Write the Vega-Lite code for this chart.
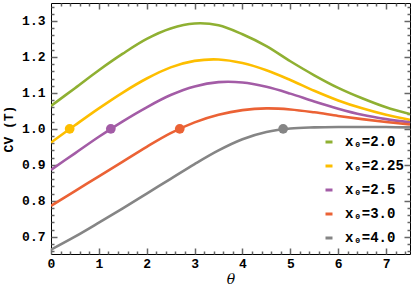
{
  "$schema": "https://vega.github.io/schema/vega-lite/v6.json",
  "width": 359,
  "height": 251,
  "autosize": {"type": "none"},
  "padding": {"left": 51, "top": 3, "right": 4, "bottom": 40},
  "config": {
    "view": {"stroke": "black", "strokeWidth": 1},
    "font": "Liberation Mono"
  },
  "datasets": {
    "curves": [
      {"series": "x₀=2.0", "theta": 0, "cv": 1.064},
      {"series": "x₀=2.0", "theta": 0.5, "cv": 1.113},
      {"series": "x₀=2.0", "theta": 1.0, "cv": 1.163},
      {"series": "x₀=2.0", "theta": 1.5, "cv": 1.209},
      {"series": "x₀=2.0", "theta": 2.0, "cv": 1.250},
      {"series": "x₀=2.0", "theta": 2.5, "cv": 1.279},
      {"series": "x₀=2.0", "theta": 3.0, "cv": 1.293},
      {"series": "x₀=2.0", "theta": 3.5, "cv": 1.288},
      {"series": "x₀=2.0", "theta": 4.0, "cv": 1.263},
      {"series": "x₀=2.0", "theta": 4.5, "cv": 1.230},
      {"series": "x₀=2.0", "theta": 5.0, "cv": 1.188},
      {"series": "x₀=2.0", "theta": 5.5, "cv": 1.149},
      {"series": "x₀=2.0", "theta": 6.0, "cv": 1.114},
      {"series": "x₀=2.0", "theta": 6.5, "cv": 1.085},
      {"series": "x₀=2.0", "theta": 7.0, "cv": 1.060},
      {"series": "x₀=2.0", "theta": 7.5, "cv": 1.041},
      {"series": "x₀=2.25", "theta": 0, "cv": 0.962},
      {"series": "x₀=2.25", "theta": 0.5, "cv": 1.010},
      {"series": "x₀=2.25", "theta": 1.0, "cv": 1.057},
      {"series": "x₀=2.25", "theta": 1.5, "cv": 1.101},
      {"series": "x₀=2.25", "theta": 2.0, "cv": 1.140},
      {"series": "x₀=2.25", "theta": 2.5, "cv": 1.171},
      {"series": "x₀=2.25", "theta": 3.0, "cv": 1.189},
      {"series": "x₀=2.25", "theta": 3.5, "cv": 1.193},
      {"series": "x₀=2.25", "theta": 4.0, "cv": 1.183},
      {"series": "x₀=2.25", "theta": 4.5, "cv": 1.163},
      {"series": "x₀=2.25", "theta": 5.0, "cv": 1.136},
      {"series": "x₀=2.25", "theta": 5.5, "cv": 1.106},
      {"series": "x₀=2.25", "theta": 6.0, "cv": 1.079},
      {"series": "x₀=2.25", "theta": 6.5, "cv": 1.057},
      {"series": "x₀=2.25", "theta": 7.0, "cv": 1.039},
      {"series": "x₀=2.25", "theta": 7.5, "cv": 1.025},
      {"series": "x₀=2.5", "theta": 0, "cv": 0.886},
      {"series": "x₀=2.5", "theta": 0.5, "cv": 0.932},
      {"series": "x₀=2.5", "theta": 1.0, "cv": 0.978},
      {"series": "x₀=2.5", "theta": 1.5, "cv": 1.021},
      {"series": "x₀=2.5", "theta": 2.0, "cv": 1.060},
      {"series": "x₀=2.5", "theta": 2.5, "cv": 1.094},
      {"series": "x₀=2.5", "theta": 3.0, "cv": 1.118},
      {"series": "x₀=2.5", "theta": 3.5, "cv": 1.130},
      {"series": "x₀=2.5", "theta": 4.0, "cv": 1.129},
      {"series": "x₀=2.5", "theta": 4.5, "cv": 1.117},
      {"series": "x₀=2.5", "theta": 5.0, "cv": 1.098},
      {"series": "x₀=2.5", "theta": 5.5, "cv": 1.076},
      {"series": "x₀=2.5", "theta": 6.0, "cv": 1.056},
      {"series": "x₀=2.5", "theta": 6.5, "cv": 1.039},
      {"series": "x₀=2.5", "theta": 7.0, "cv": 1.027},
      {"series": "x₀=2.5", "theta": 7.5, "cv": 1.018},
      {"series": "x₀=3.0", "theta": 0, "cv": 0.786},
      {"series": "x₀=3.0", "theta": 0.5, "cv": 0.827},
      {"series": "x₀=3.0", "theta": 1.0, "cv": 0.868},
      {"series": "x₀=3.0", "theta": 1.5, "cv": 0.909},
      {"series": "x₀=3.0", "theta": 2.0, "cv": 0.950},
      {"series": "x₀=3.0", "theta": 2.5, "cv": 0.988},
      {"series": "x₀=3.0", "theta": 3.0, "cv": 1.018},
      {"series": "x₀=3.0", "theta": 3.5, "cv": 1.039},
      {"series": "x₀=3.0", "theta": 4.0, "cv": 1.052},
      {"series": "x₀=3.0", "theta": 4.5, "cv": 1.057},
      {"series": "x₀=3.0", "theta": 5.0, "cv": 1.054},
      {"series": "x₀=3.0", "theta": 5.5, "cv": 1.046},
      {"series": "x₀=3.0", "theta": 6.0, "cv": 1.036},
      {"series": "x₀=3.0", "theta": 6.5, "cv": 1.027},
      {"series": "x₀=3.0", "theta": 7.0, "cv": 1.019},
      {"series": "x₀=3.0", "theta": 7.5, "cv": 1.012},
      {"series": "x₀=4.0", "theta": 0, "cv": 0.664},
      {"series": "x₀=4.0", "theta": 0.5, "cv": 0.700},
      {"series": "x₀=4.0", "theta": 1.0, "cv": 0.739},
      {"series": "x₀=4.0", "theta": 1.5, "cv": 0.779},
      {"series": "x₀=4.0", "theta": 2.0, "cv": 0.820},
      {"series": "x₀=4.0", "theta": 2.5, "cv": 0.861},
      {"series": "x₀=4.0", "theta": 3.0, "cv": 0.902},
      {"series": "x₀=4.0", "theta": 3.5, "cv": 0.940},
      {"series": "x₀=4.0", "theta": 4.0, "cv": 0.971},
      {"series": "x₀=4.0", "theta": 4.5, "cv": 0.991},
      {"series": "x₀=4.0", "theta": 5.0, "cv": 1.001},
      {"series": "x₀=4.0", "theta": 5.5, "cv": 1.004},
      {"series": "x₀=4.0", "theta": 6.0, "cv": 1.005},
      {"series": "x₀=4.0", "theta": 6.5, "cv": 1.005},
      {"series": "x₀=4.0", "theta": 7.0, "cv": 1.005},
      {"series": "x₀=4.0", "theta": 7.5, "cv": 1.004}
    ],
    "crossings": [
      {"series": "x₀=2.25", "theta": 0.39, "cv": 1},
      {"series": "x₀=2.5", "theta": 1.25, "cv": 1},
      {"series": "x₀=3.0", "theta": 2.69, "cv": 1},
      {"series": "x₀=4.0", "theta": 4.85, "cv": 1}
    ]
  },
  "resolve": {"axis": {"x": "independent", "y": "independent"}},
  "layer": [
    {
      "mark": {"type": "rule", "strokeDash": [2, 2], "color": "#7a7a7a", "strokeWidth": 1},
      "encoding": {
        "x": {"datum": 0, "type": "quantitative", "scale": {"domain": [0, 7.5], "nice": false, "zero": false},
              "axis": {"orient": "top", "values": [1, 2, 3, 4, 5, 6, 7], "tickSize": -6, "tickColor": "#666", "tickWidth": 1.5, "labels": false, "title": null, "domain": false, "grid": false}},
        "x2": {"datum": 7.5},
        "y": {"datum": 1, "type": "quantitative", "scale": {"domain": [0.652, 1.35], "nice": false, "zero": false},
              "axis": {"orient": "right", "values": [0.7, 0.8, 0.9, 1.0, 1.1, 1.2, 1.3], "tickSize": -6, "tickColor": "#666", "tickWidth": 1.5, "labels": false, "title": null, "domain": false, "grid": false}}
      }
    },
    {
      "data": {"name": "curves"},
      "mark": {"type": "line", "strokeWidth": 2.6, "interpolate": "catmull-rom", "clip": true},
      "encoding": {
        "x": {"field": "theta", "type": "quantitative",
              "axis": {"orient": "bottom", "values": [0, 1, 2, 3, 4, 5, 6, 7], "tickSize": -6, "tickColor": "#666", "tickWidth": 1.5, "labelPadding": 9,
                       "domain": false, "grid": false, "labelFlush": false,
                       "labelFont": "Liberation Mono", "labelFontWeight": "bold", "labelFontSize": 13, "labelColor": "black",
                       "title": "θ", "titleFont": "DejaVu Serif", "titleFontStyle": "italic", "titleFontWeight": "normal", "titleFontSize": 14, "titleColor": "black", "titlePadding": 2}},
        "y": {"field": "cv", "type": "quantitative",
              "axis": {"orient": "left", "values": [0.7, 0.8, 0.9, 1.0, 1.1, 1.2, 1.3], "format": ".1f", "tickSize": -6, "tickColor": "#666", "tickWidth": 1.5, "labelPadding": 12,
                       "domain": false, "grid": false, "labelFlush": false,
                       "labelFont": "Liberation Mono", "labelFontWeight": "bold", "labelFontSize": 13, "labelColor": "black",
                       "title": "CV (T)", "titleFont": "Liberation Mono", "titleFontWeight": "bold", "titleFontSize": 13, "titleColor": "black", "titlePadding": 6}},
        "color": {"field": "series", "type": "nominal",
                  "scale": {"domain": ["x₀=2.0", "x₀=2.25", "x₀=2.5", "x₀=3.0", "x₀=4.0"],
                            "range": ["#8FB032", "#FDBE00", "#A35CA6", "#EB6235", "#858585"]},
                  "legend": {"orient": "none", "legendX": 271, "legendY": 132, "title": null,
                             "symbolType": "stroke", "symbolSize": 49, "symbolStrokeWidth": 3,
                             "labelFont": "Liberation Mono", "labelFontWeight": "bold", "labelFontSize": 14, "labelColor": "black",
                             "rowPadding": 10, "labelOffset": 9}}
      }
    },
    {
      "data": {"name": "crossings"},
      "mark": {"type": "point", "filled": true, "size": 95, "opacity": 1},
      "encoding": {
        "x": {"field": "theta", "type": "quantitative",
              "axis": {"orient": "bottom", "values": [0.2,0.4,0.6,0.8,1.2,1.4,1.6,1.8,2.2,2.4,2.6,2.8,3.2,3.4,3.6,3.8,4.2,4.4,4.6,4.8,5.2,5.4,5.6,5.8,6.2,6.4,6.6,6.8,7.2,7.4], "tickSize": -3, "tickColor": "#666", "tickWidth": 1.5, "labels": false, "title": null, "domain": false, "grid": false}},
        "y": {"field": "cv", "type": "quantitative",
              "axis": {"orient": "left", "values": [0.66,0.68,0.72,0.74,0.76,0.78,0.82,0.84,0.86,0.88,0.92,0.94,0.96,0.98,1.02,1.04,1.06,1.08,1.12,1.14,1.16,1.18,1.22,1.24,1.26,1.28,1.32,1.34], "tickSize": -3, "tickColor": "#666", "tickWidth": 1.5, "labels": false, "title": null, "domain": false, "grid": false}},
        "color": {"field": "series", "type": "nominal"}
      }
    },
    {
      "mark": {"type": "text", "text": "(b)", "font": "Liberation Mono", "fontWeight": "bold", "fontSize": 14, "align": "left", "baseline": "middle", "color": "black"},
      "encoding": {
        "x": {"datum": 0.26, "type": "quantitative",
              "axis": {"orient": "top", "values": [0.2,0.4,0.6,0.8,1.2,1.4,1.6,1.8,2.2,2.4,2.6,2.8,3.2,3.4,3.6,3.8,4.2,4.4,4.6,4.8,5.2,5.4,5.6,5.8,6.2,6.4,6.6,6.8,7.2,7.4], "tickSize": -3, "tickColor": "#666", "tickWidth": 1.5, "labels": false, "title": null, "domain": false, "grid": false}},
        "y": {"datum": 1.25, "type": "quantitative",
              "axis": {"orient": "right", "values": [0.66,0.68,0.72,0.74,0.76,0.78,0.82,0.84,0.86,0.88,0.92,0.94,0.96,0.98,1.02,1.04,1.06,1.08,1.12,1.14,1.16,1.18,1.22,1.24,1.26,1.28,1.32,1.34], "tickSize": -3, "tickColor": "#666", "tickWidth": 1.5, "labels": false, "title": null, "domain": false, "grid": false}}
      }
    }
  ]
}
